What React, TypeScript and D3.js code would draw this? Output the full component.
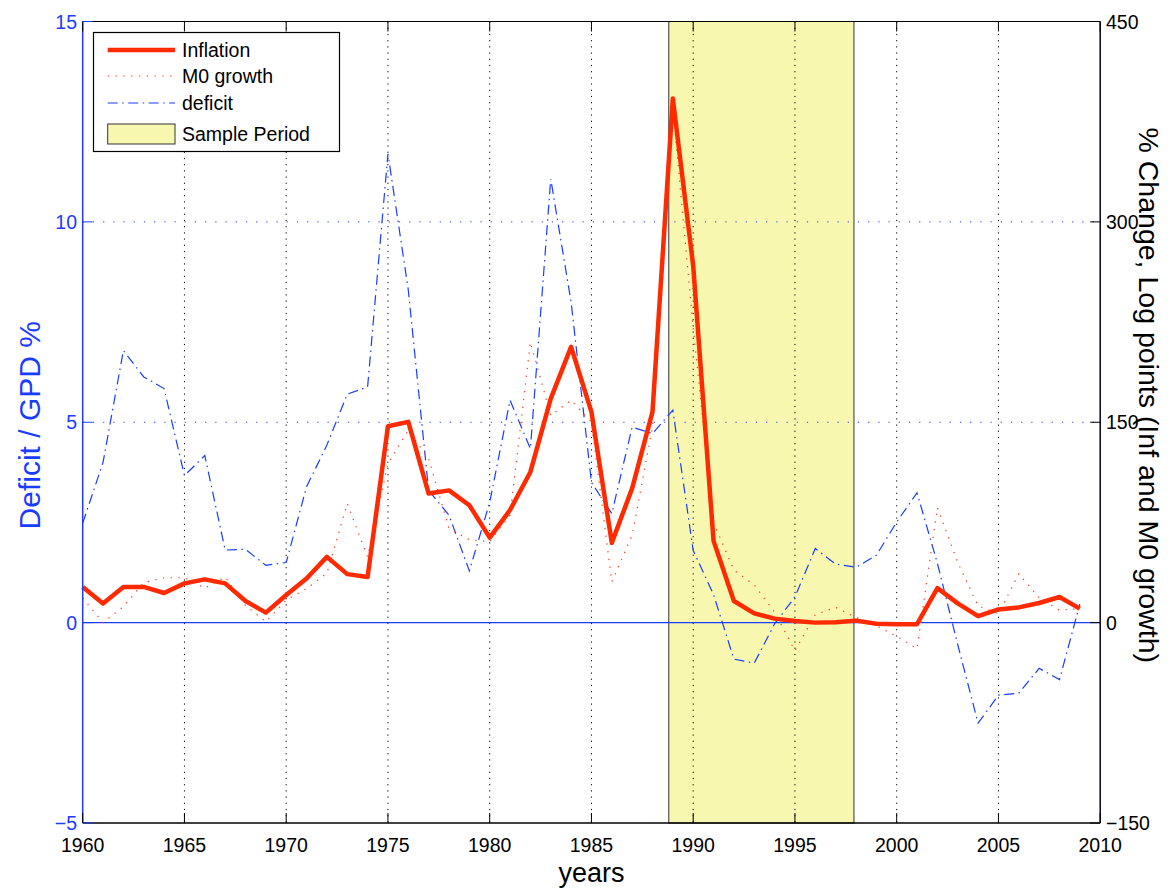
import React from "react";
import * as d3 from "d3";

const years: number[] = d3.range(1960, 2010);
// % change (right axis)
const inflation: number[] = [
  26.7, 14.4, 26.7, 26.7, 22.2, 29.4, 32.4, 29.4, 16.2, 7.5,
  20.7, 33, 49.2, 36.3, 34.2, 147, 150.3, 96.6, 99, 87.9,
  63.6, 84.3, 112.8, 167.7, 206.4, 157.8, 59.7, 100.5, 157.8, 392.4,
  267, 61.2, 16.2, 6.9, 3, 1.2, 0, 0.3, 1.5, -0.9,
  -1.2, -1.2, 25.8, 14.4, 4.8, 9.9, 11.4, 14.7, 19.2, 10.5,
];
const m0growth: number[] = [
  18.6, 0, 12, 30, 33.6, 33.6, 25.8, 34.2, 12.9, 0.6,
  16.8, 25.5, 36.9, 89.1, 49.2, 119.1, 144, 122.7, 70.5, 62.1,
  60.6, 80.4, 210, 155.1, 166.5, 150, 30.6, 65.4, 146.4, 385.5,
  220.5, 75, 39.3, 28.2, 7.8, -21, 6, 11.4, 3.9, -2.4,
  -10.2, -19.5, 86.1, 45, 12.6, 6.6, 36.6, 18.6, 9.3, 10.5,
];
// deficit / GDP % (left axis)
const deficit: number[] = [
  2.48, 4.0, 6.79, 6.13, 5.84, 3.67, 4.17, 1.81, 1.83, 1.43,
  1.5, 3.39, 4.43, 5.7, 5.88, 11.7, 8.3, 3.3, 2.68, 1.29,
  3.0, 5.55, 4.34, 11.07, 8.0, 3.5, 2.72, 4.88, 4.72, 5.3,
  1.8, 0.7, -0.91, -1.01, -0.03, 0.64, 1.85, 1.46, 1.38, 1.68,
  2.51, 3.24, 1.48, -0.55, -2.51, -1.81, -1.76, -1.14, -1.42, 0.46,
];
const samplePeriod: [number, number] = [1988.8, 1997.9];
const xTicks: number[] = d3.range(1960, 2011, 5);
const leftTicks: number[] = [-5, 0, 5, 10, 15];
const rightTicks: number[] = [-150, 0, 150, 300, 450];
const legendLabels: string[] = ["Inflation", "M0 growth", "deficit", "Sample Period"];

const W = 1168, H = 888;
const L = 82.7, R = 1100.2, T = 21.5, B = 823;
const FONT = "'Liberation Sans', Arial, Helvetica, sans-serif";
const RED = "#ff2a00";
const BLUE = "#1a3cff";

export default function App() {
  const x = d3.scaleLinear().domain([1960, 2010]).range([L, R]);
  const yL = d3.scaleLinear().domain([-5, 15]).range([B, T]);
  const yR = d3.scaleLinear().domain([-150, 450]).range([B, T]);

  const lineR = d3.line<number>().x((_, i) => x(years[i])).y((d) => yR(d));
  const lineL = d3.line<number>().x((_, i) => x(years[i])).y((d) => yL(d));

  const lx0 = 107.7, lx1 = 175, ltx = 182;
  const ly = [50, 76, 103, 134];

  return (
    <svg
      width={W}
      height={H}
      style={{ position: "absolute", left: 0, top: 0, background: "#fff" }}
      fontFamily={FONT}
    >
      <rect x={0} y={0} width={W} height={H} fill="#fff" />
      {/* sample period band */}
      <rect
        x={x(samplePeriod[0])}
        y={T}
        width={x(samplePeriod[1]) - x(samplePeriod[0])}
        height={B - T}
        fill="#f7f7b0"
        stroke="#333"
        strokeWidth={1}
      />
      {/* vertical grid */}
      {xTicks.slice(1, -1).map((t) => (
        <line key={"vg" + t} x1={x(t)} x2={x(t)} y1={T} y2={B} stroke="#000" strokeWidth={1} strokeDasharray="1.2,5" />
      ))}
      {/* horizontal grid (left axis) */}
      {leftTicks.slice(1, -1).filter((t) => t !== 0).map((t) => (
        <line key={"hg" + t} x1={L} x2={R} y1={yL(t)} y2={yL(t)} stroke={BLUE} strokeWidth={1} strokeDasharray="1.2,9" />
      ))}
      {/* zero line */}
      <line x1={L} x2={R} y1={yL(0)} y2={yL(0)} stroke={BLUE} strokeWidth={1.2} />

      {/* series */}
      <path d={lineL(deficit) || ""} fill="none" stroke={BLUE} strokeWidth={1.2} strokeDasharray="10,4.5,1.5,4.5" />
      <path d={lineR(m0growth) || ""} fill="none" stroke="#ff3a1a" strokeWidth={1.2} strokeDasharray="1.3,6.5" />
      <path d={lineR(inflation) || ""} fill="none" stroke={RED} strokeWidth={4.5} strokeLinejoin="round" />

      {/* axes frame */}
      <line x1={L} x2={R} y1={T} y2={T} stroke="#000" strokeWidth={1.2} />
      <line x1={L} x2={R} y1={B} y2={B} stroke="#000" strokeWidth={1.5} />
      <line x1={L} x2={L} y1={T} y2={B} stroke={BLUE} strokeWidth={1.5} />
      <line x1={R} x2={R} y1={T} y2={B} stroke="#000033" strokeWidth={1.5} />

      {/* x ticks */}
      {xTicks.map((t) => (
        <g key={"xt" + t}>
          <line x1={x(t)} x2={x(t)} y1={B} y2={B - 10} stroke="#000" strokeWidth={1} />
          <line x1={x(t)} x2={x(t)} y1={T} y2={T + 10} stroke="#000" strokeWidth={1} />
          <text x={x(t)} y={852} textAnchor="middle" fontSize={19.5} fill="#000">{t}</text>
        </g>
      ))}
      {/* left ticks */}
      {leftTicks.map((t) => (
        <g key={"lt" + t}>
          <line x1={L} x2={L + 10} y1={yL(t)} y2={yL(t)} stroke={BLUE} strokeWidth={1} />
          <text x={77} y={yL(t)} dy="0.36em" textAnchor="end" fontSize={19.5} fill={BLUE}>
            {t < 0 ? "\u2212" + Math.abs(t) : t}
          </text>
        </g>
      ))}
      {/* right ticks */}
      {rightTicks.map((t) => (
        <g key={"rt" + t}>
          <line x1={R} x2={R - 10} y1={yR(t)} y2={yR(t)} stroke="#000" strokeWidth={1} />
          <text x={1106} y={yR(t)} dy="0.36em" textAnchor="start" fontSize={19.5} fill="#000">
            {t < 0 ? "\u2212" + Math.abs(t) : t}
          </text>
        </g>
      ))}

      {/* axis labels */}
      <text x={(L + R) / 2} y={882} textAnchor="middle" fontSize={27} fill="#000">years</text>
      <text
        transform={`translate(40, ${(T + B) / 2 + 3}) rotate(-90)`}
        textAnchor="middle"
        fontSize={30}
        fill={BLUE}
      >
        Deficit / GPD %
      </text>
      <text
        transform={`translate(1139, ${(T + B) / 2 - 27}) rotate(90)`}
        textAnchor="middle"
        fontSize={28.5}
        fill="#000"
      >
        % Change, Log points (Inf and M0 growth)
      </text>

      {/* legend */}
      <rect x={93.5} y={32.5} width={246} height={119} fill="#fff" stroke="#000" strokeWidth={1.2} />
      <line x1={lx0} x2={lx1} y1={ly[0]} y2={ly[0]} stroke={RED} strokeWidth={4.5} />
      <line x1={lx0} x2={lx1} y1={ly[1]} y2={ly[1]} stroke="#ff3a1a" strokeWidth={1.2} strokeDasharray="1.3,6.5" />
      <line x1={lx0} x2={lx1} y1={ly[2]} y2={ly[2]} stroke={BLUE} strokeWidth={1.2} strokeDasharray="10,4.5,1.5,4.5" />
      <rect x={lx0} y={124} width={lx1 - lx0} height={20} fill="#f7f7b0" stroke="#333" strokeWidth={1} />
      {legendLabels.map((s, i) => (
        <text key={s} x={ltx} y={ly[i]} dy="0.36em" fontSize={19.5} fill="#000">{s}</text>
      ))}
    </svg>
  );
}
